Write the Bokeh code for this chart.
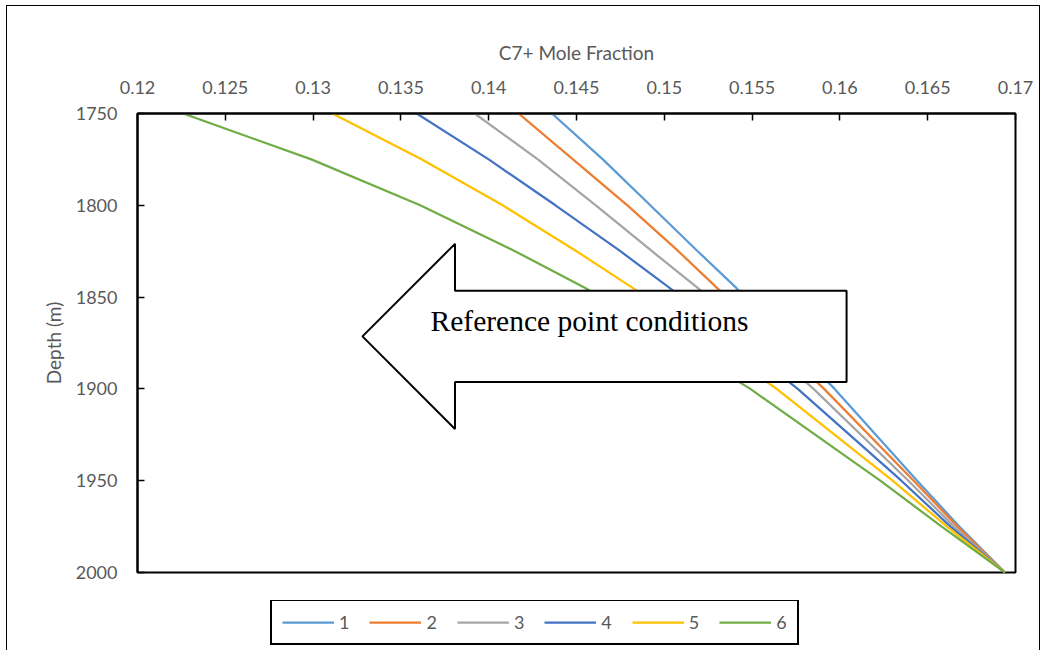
from bokeh.plotting import figure
from bokeh.layouts import column
from bokeh.models import Range1d, FixedTicker, CustomJSTickFormatter, Legend, LegendItem
from bokeh.embed import file_html
from bokeh.resources import INLINE
from bokeh.core.properties import value

# ---- data ----
depth = [1750, 1775, 1800, 1825, 1845, 1900, 1950, 1975, 2000]
c7_1 = [0.1436, 0.1465, 0.1492, 0.1519, 0.1541, 0.1597, 0.1644, 0.1668, 0.1694]
c7_2 = [0.1417, 0.1448, 0.1479, 0.1508, 0.1530, 0.1591, 0.1642, 0.1667, 0.1694]
c7_3 = [0.1392, 0.1428, 0.1461, 0.1493, 0.1519, 0.1585, 0.1639, 0.1665, 0.1694]
c7_4 = [0.1359, 0.1400, 0.1438, 0.1475, 0.1503, 0.1576, 0.1635, 0.1663, 0.1694]
c7_5 = [0.1311, 0.1362, 0.1408, 0.1450, 0.1482, 0.1564, 0.1630, 0.1661, 0.1694]
c7_6 = [0.1226, 0.1299, 0.1361, 0.1415, 0.1455, 0.1549, 0.1623, 0.1658, 0.1694]
series_labels = ["1", "2", "3", "4", "5", "6"]
series_colors = ["#5B9BD5", "#ED7D31", "#A5A5A5", "#4472C4", "#FFC000", "#70AD47"]
x_ticks = [0.12, 0.125, 0.13, 0.135, 0.14, 0.145, 0.15, 0.155, 0.16, 0.165, 0.17]
y_ticks = [1750, 1800, 1850, 1900, 1950, 2000]

# arrow call-out (data coordinates)
arrow_x = [0.13281, 0.13808, 0.13808, 0.16038, 0.16038, 0.13808, 0.13808]
arrow_y = [1871.4, 1821.0, 1846.6, 1846.6, 1896.2, 1896.2, 1921.8]
arrow_text = "Reference point conditions"
arrow_text_x = 0.13669
arrow_text_y = 1862.8

FONT = "Lato"
GREY = "#595959"
W = 1041

p = figure(width=W, height=600, output_backend="svg", toolbar_location=None,
           x_range=Range1d(0.12, 0.17), y_range=Range1d(2000, 1750),
           x_axis_location="above",
           min_border_left=137, min_border_top=113, min_border_right=26, min_border_bottom=28)

p.background_fill_color = "white"
p.border_fill_alpha = 0
p.outline_line_color = "black"
p.outline_line_width = 2
p.xgrid.visible = False
p.ygrid.visible = False

for ax in (p.xaxis[0], p.yaxis[0]):
    ax.axis_line_color = "black"
    ax.axis_line_width = 2
    ax.major_tick_in = 7
    ax.major_tick_out = 0
    ax.major_tick_line_color = "black"
    ax.major_tick_line_width = 1.5
    ax.minor_tick_line_color = None
    ax.major_label_text_font = FONT
    ax.major_label_text_font_size = "18px"
    ax.major_label_text_color = GREY
    ax.axis_label_text_font = FONT
    ax.axis_label_text_font_size = "19px"
    ax.axis_label_text_font_style = "normal"
    ax.axis_label_text_color = GREY
    ax.major_label_standoff = 20

p.xaxis[0].ticker = FixedTicker(ticks=x_ticks)
p.xaxis[0].formatter = CustomJSTickFormatter(code="return tick.toFixed(3).replace(/0+$/, '');")
p.xaxis[0].axis_label = "C7+ Mole Fraction"
p.xaxis[0].axis_label_standoff = 14

p.yaxis[0].ticker = FixedTicker(ticks=y_ticks)
p.yaxis[0].axis_label = "Depth (m)"
p.yaxis[0].axis_label_standoff = 8

series = [c7_1, c7_2, c7_3, c7_4, c7_5, c7_6]
for vals, col in zip(series, series_colors):
    p.line(vals, depth, line_color=col, line_width=2.25)

p.patch(arrow_x, arrow_y, fill_color="white", line_color="black", line_width=2)
p.text(x=[arrow_text_x], y=[arrow_text_y], text=[arrow_text],
       text_font=value("Liberation Serif"), text_font_size="29.5px",
       text_color="black", text_baseline="alphabetic", text_align="left")

# ---- legend strip below the chart (same series, clipped out of its view) ----
lf = figure(width=W, height=50, output_backend="svg", toolbar_location=None,
            x_range=Range1d(0.12, 0.17), y_range=Range1d(0, 50),
            x_axis_type=None, y_axis_type=None,
            min_border_left=137, min_border_right=26, min_border_top=0, min_border_bottom=0)
lf.outline_line_color = None
lf.xgrid.visible = False
lf.ygrid.visible = False
lf.background_fill_alpha = 0
lf.border_fill_alpha = 0

items = []
for vals, lab, col in zip(series, series_labels, series_colors):
    r = lf.line(vals, depth, line_color=col, line_width=2.25)
    items.append(LegendItem(label=lab, renderers=[r]))

lg = Legend(items=items, orientation="horizontal", location=(133, 5))
lg.border_line_color = "black"
lg.border_line_width = 2
lg.border_line_alpha = 1
lg.background_fill_color = "white"
lg.background_fill_alpha = 1
lg.label_text_font = FONT
lg.label_text_font_size = "18px"
lg.label_text_color = GREY
lg.glyph_width = 52
lg.glyph_height = 20
lg.label_standoff = 5
lg.label_width = 10
lg.spacing = 20
lg.padding = 10
lg.margin = 0
lg.label_height = 20
lf.add_layout(lg, "center")

frame_css = {
    "background-image": ", ".join(["linear-gradient(#000, #000)"] * 3),
    "background-repeat": "no-repeat",
    "background-position": "6px 5px, 6px 5px, right 1px top 5px",
    "background-size": "1px 100%, calc(100% - 7px) 1px, 1px 100%",
}
layout = column(p, lf, spacing=0, styles=frame_css)

open("out.html", "w").write(file_html(layout, INLINE))
